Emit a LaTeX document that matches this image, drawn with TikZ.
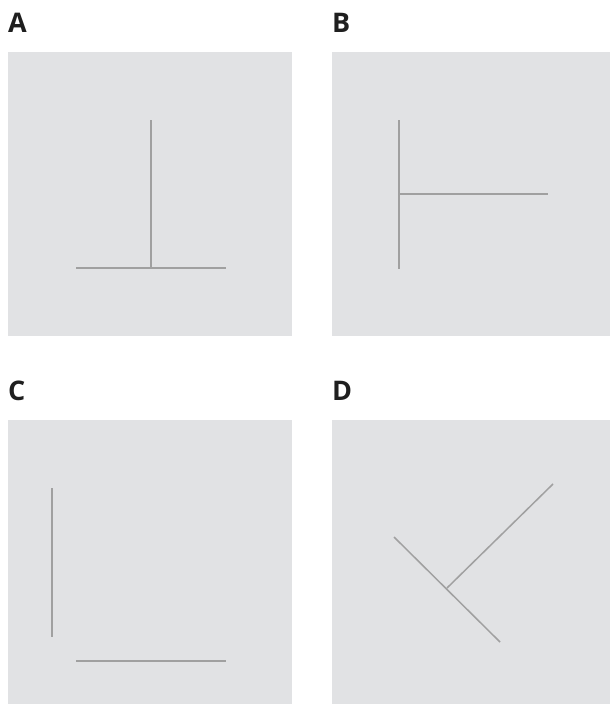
\documentclass[tikz,border=0pt]{standalone}
\usepackage{fontspec}
\setsansfont{Open Sans}
\usepackage{tikz}
\usetikzlibrary{positioning}
\definecolor{panelgray}{HTML}{E1E2E4}
\definecolor{linegray}{HTML}{A0A0A0}

\begin{document}
\begin{tikzpicture}[x=1pt,y=-1pt,
  panel/.style={fill=panelgray,draw=none},
  stroke/.style={draw=linegray,line width=1.5pt},
  tag/.style={font=\sffamily\bfseries\fontsize{27}{27}\selectfont,text=black!88,anchor=base west,inner sep=0pt}]
\useasboundingbox (0,0) rectangle (610,704);
% panels and letters
\foreach \lab/\px/\py in {A/8/52,B/332/52,C/8/420,D/332/420}{
  \fill[panel] (\px,\py) rectangle ++(284,284);
  \node[tag] (tag\lab) at (\px,\py-20) {\lab};
}
% A
\draw[stroke] (151,120) -- (151,268);
\draw[stroke] (76,268) -- (226,268);
% B
\draw[stroke] (399,120) -- (399,269);
\draw[stroke] (399,194) -- (548,194);
% C
\draw[stroke] (52,488) -- (52,637);
\draw[stroke] (76,661) -- (226,661);
% D
\draw[stroke] (394,537) -- (500,642);
\draw[stroke] (447,588) -- (553,484);
\end{tikzpicture}
\end{document}
